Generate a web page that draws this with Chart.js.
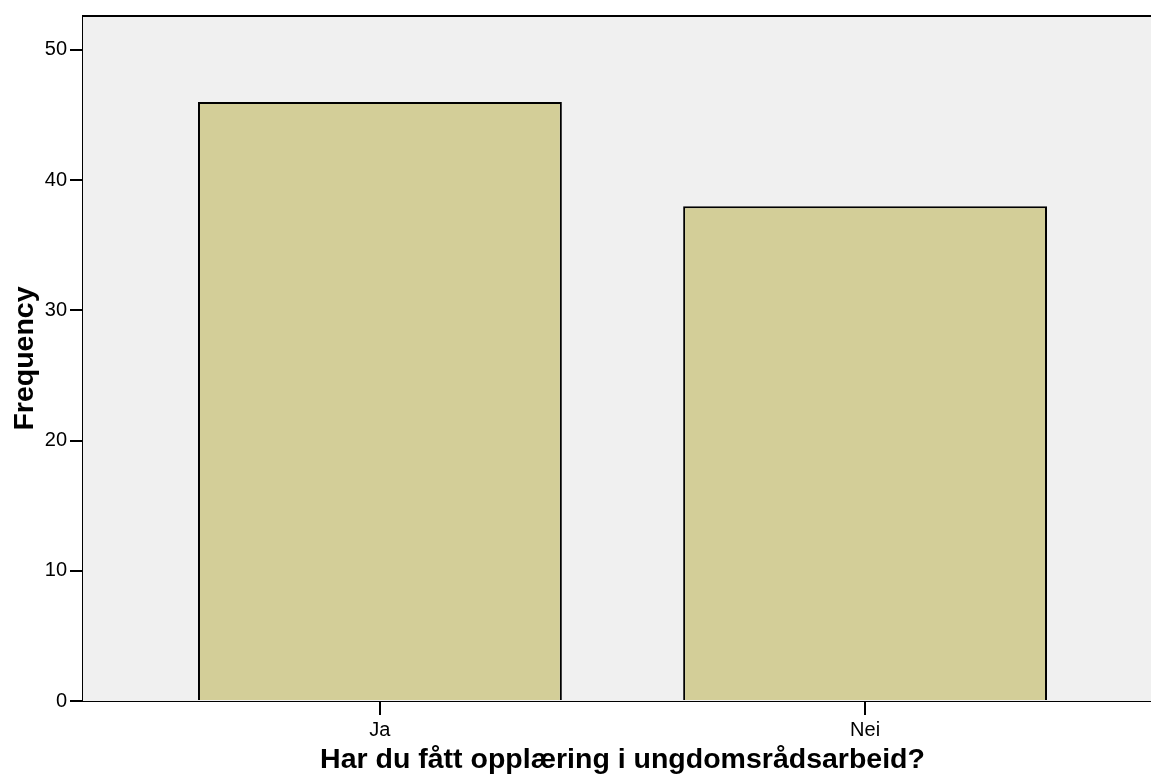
<!DOCTYPE html>
<html>
<head>
<meta charset="utf-8">
<script src="https://cdn.jsdelivr.net/npm/chart.js@4.4.1/dist/chart.umd.min.js"></script>
<style>
  html, body { margin: 0; padding: 0; background: #fff; overflow: hidden; }
  #wrap { width: 1170px; height: 783px; }
</style>
</head>
<body>
<div id="wrap"><canvas id="freqChart"></canvas></div>
<script>
const categories = ['Ja', 'Nei'];
const frequencies = [46, 38];
const yTicks = [0, 10, 20, 30, 40, 50];

// plot background + top frame line
const plotFrame = {
    id: 'plotFrame',
    beforeDatasetsDraw(chart) {
        const { ctx, chartArea: a } = chart;
        ctx.save();
        ctx.fillStyle = '#f0f0f0';
        ctx.fillRect(a.left, a.top, a.right - a.left, a.bottom - a.top);
        ctx.restore();
    },
    afterDraw(chart) {
        const { ctx, chartArea: a } = chart;
        ctx.save();
        ctx.strokeStyle = '#000';
        ctx.lineWidth = 2;
        ctx.beginPath();
        ctx.moveTo(a.left - 1, a.top);
        ctx.lineTo(a.right, a.top);
        ctx.stroke();
        ctx.restore();
    }
};

const ctx = document.getElementById('freqChart').getContext('2d');
new Chart(ctx, {
    type: 'bar',
    data: {
        datasets: [{
            data: frequencies.map((v, i) => ({ x: i, y: v })),
            backgroundColor: '#d3ce98',
            borderColor: '#000',
            borderWidth: 2,
            barPercentage: 0.75,
            categoryPercentage: 1
        }]
    },
    options: {
        responsive: true,
        maintainAspectRatio: false,
        animation: false,
        layout: { padding: { top: 16, right: 8, left: 0, bottom: 0 } },
        plugins: { legend: { display: false }, tooltip: { enabled: false } },
        scales: {
            x: {
                type: 'linear',
                min: -0.612,
                max: 1.612,
                offset: false,
                afterBuildTicks: s => { s.ticks = categories.map((c, i) => ({ value: i })); },
                afterFit: s => { s.height = 82; },
                ticks: {
                    callback: v => categories[v],
                    color: '#000',
                    font: { family: 'Liberation Sans, Arial', size: 20 },
                    padding: 3,
                    maxRotation: 0
                },
                grid: { offset: false, drawOnChartArea: false, color: '#000', lineWidth: 2, tickLength: 14 },
                border: { color: '#000', width: 2 },
                title: {
                    display: true,
                    text: 'Har du fått opplæring i ungdomsrådsarbeid?',
                    color: '#000',
                    font: { family: 'Liberation Sans, Arial', size: 28.5, weight: 'bold' },
                    padding: { top: 4, bottom: 6 }
                }
            },
            y: {
                min: 0,
                max: 52.6,
                afterBuildTicks: s => { s.ticks = yTicks.map(v => ({ value: v })); },
                afterFit: s => { s.width = 83; },
                ticks: {
                    color: '#000',
                    font: { family: 'Liberation Sans, Arial', size: 20 },
                    padding: 3
                },
                grid: { drawOnChartArea: false, color: '#000', lineWidth: 2, tickLength: 13 },
                border: { color: '#000', width: 2 },
                title: {
                    display: true,
                    text: 'Frequency',
                    color: '#000',
                    font: { family: 'Liberation Sans, Arial', size: 28.5, weight: 'bold' },
                    padding: { top: 8, bottom: 4 }
                }
            }
        }
    },
    plugins: [plotFrame]
});
</script>
</body>
</html>
